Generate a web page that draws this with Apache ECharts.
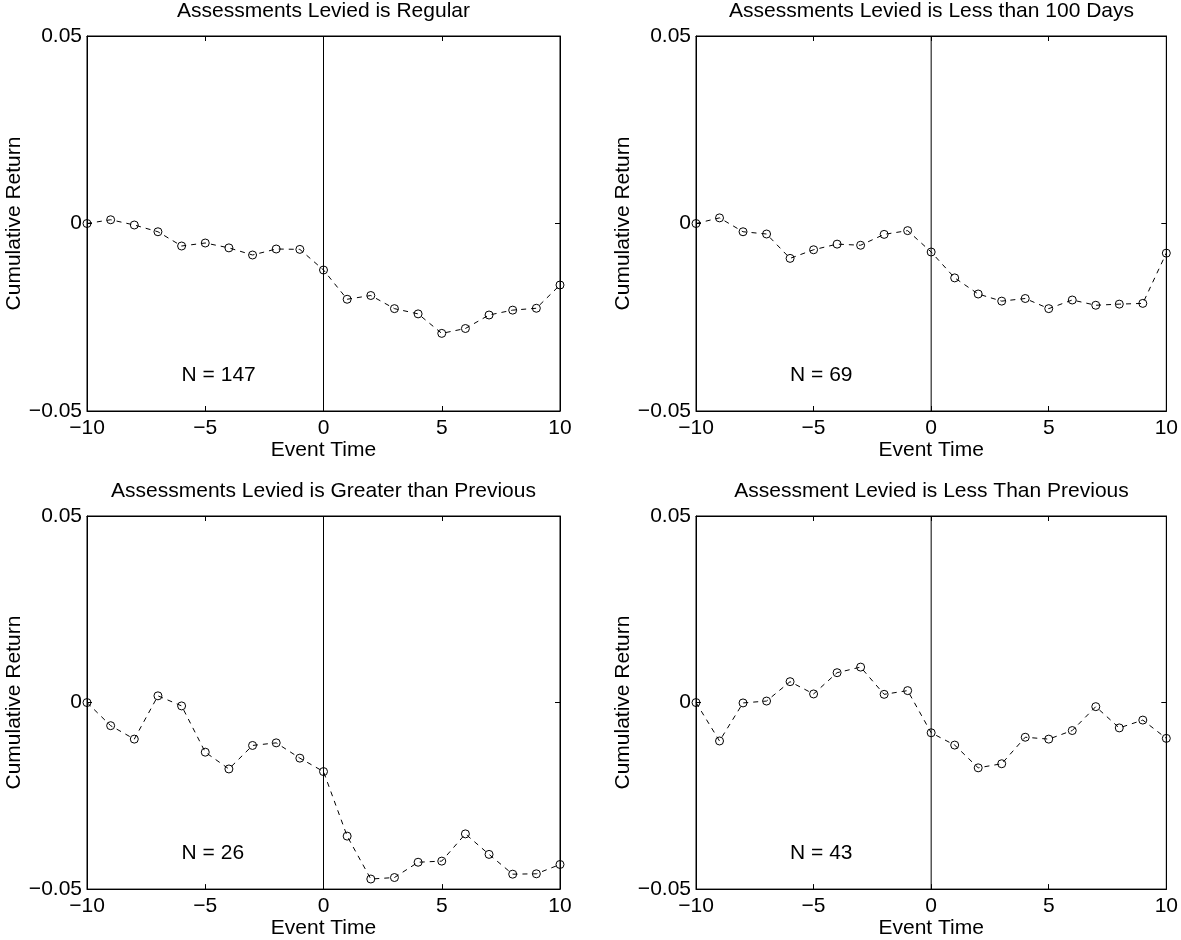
<!DOCTYPE html>
<html>
<head>
<meta charset="utf-8">
<script src="https://cdn.jsdelivr.net/npm/echarts@6/dist/echarts.min.js"></script>
<style>
  html, body { margin: 0; padding: 0; background: #fff; }
  #chart { width: 1181px; height: 940px; }
</style>
</head>
<body>
<div id="chart"></div>
<script>
// Event window (days relative to the levy announcement)
const eventTime = [-10, -9, -8, -7, -6, -5, -4, -3, -2, -1, 0, 1, 2, 3, 4, 5, 6, 7, 8, 9, 10];

// Cumulative returns for each sample
const regular = [0, 0.0010, -0.0004, -0.0022, -0.0060, -0.0052, -0.0065, -0.0084, -0.0068, -0.0069,
  -0.0124, -0.0202, -0.0192, -0.0227, -0.0241, -0.0293, -0.0280, -0.0244, -0.0231, -0.0226, -0.0164];
const lessThan100Days = [0, 0.0015, -0.0022, -0.0028, -0.0093, -0.0070, -0.0055, -0.0058, -0.0029, -0.0019,
  -0.0076, -0.0145, -0.0188, -0.0207, -0.0200, -0.0227, -0.0204, -0.0218, -0.0215, -0.0213, -0.0079];
const greaterThanPrevious = [0, -0.0062, -0.0098, 0.0018, -0.0009, -0.0133, -0.0178, -0.0115, -0.0108, -0.0149,
  -0.0185, -0.0358, -0.0473, -0.0469, -0.0428, -0.0425, -0.0352, -0.0407, -0.0460, -0.0459, -0.0434];
const lessThanPrevious = [0, -0.0103, -0.0001, 0.0004, 0.0056, 0.0023, 0.0080, 0.0095, 0.0022, 0.0032,
  -0.0081, -0.0114, -0.0175, -0.0164, -0.0093, -0.0098, -0.0075, -0.0011, -0.0068, -0.0047, -0.0096];

const panelTitles = [
  'Assessments Levied is Regular',
  'Assessments Levied is Less than 100 Days',
  'Assessments Levied is Greater than Previous',
  'Assessment Levied is Less Than Previous'
];
const sampleSizes = [147, 69, 26, 43];
const panelSeries = [regular, lessThan100Days, greaterThanPrevious, lessThanPrevious];

// Anchor of the "N = ..." note, in data units
const noteX = -6;
const noteY = -0.0405;

const xLabel = 'Event Time';
const yLabel = 'Cumulative Return';

// Layout of the 2x2 panels (pixels)
const grids = [
  { left: 87, top: 36, width: 473, height: 375 },
  { left: 696, top: 36, width: 471, height: 375 },
  { left: 87, top: 516, width: 473, height: 375 },
  { left: 696, top: 516, width: 471, height: 375 }
];

const FONT = 'Liberation Sans, Arial, Helvetica, sans-serif';
const FS = 21;
const minus = s => String(s).replace('-', '\u2212');

const option = {
  backgroundColor: '#fff',
  animation: false,
  textStyle: { fontFamily: FONT },
  title: [],
  grid: [],
  xAxis: [],
  yAxis: [],
  series: []
};

grids.forEach((g, i) => {
  option.grid.push(Object.assign({ show: true, borderColor: '#000', borderWidth: 1, backgroundColor: '#fff' }, g));

  option.title.push({
    text: panelTitles[i],
    left: g.left + g.width / 2,
    top: g.top - 35,
    padding: 0,
    textAlign: 'center',
    textStyle: { fontFamily: FONT, fontSize: FS, fontWeight: 'normal', color: '#000' }
  });

  const xCommon = {
    type: 'value', gridIndex: i, min: -10, max: 10, interval: 5,
    splitLine: { show: false },
    axisLine: { show: true, onZero: false, lineStyle: { color: '#000', width: 1 } },
    axisTick: { show: true, inside: true, length: 5, lineStyle: { color: '#000' } }
  };
  option.xAxis.push(Object.assign({}, xCommon, {
    position: 'bottom',
    name: xLabel, nameLocation: 'middle', nameGap: 27,
    nameTextStyle: { fontFamily: FONT, fontSize: FS, color: '#000' },
    axisLabel: { show: true, margin: 7, fontFamily: FONT, fontSize: FS, color: '#000', formatter: v => minus(v) }
  }));
  option.xAxis.push(Object.assign({}, xCommon, { position: 'top', axisLabel: { show: false } }));

  const yCommon = {
    type: 'value', gridIndex: i, min: -0.05, max: 0.05, interval: 0.05,
    splitLine: { show: false },
    axisLine: { show: true, onZero: false, lineStyle: { color: '#000', width: 1 } },
    axisTick: { show: true, inside: true, length: 5, lineStyle: { color: '#000' } }
  };
  option.yAxis.push(Object.assign({}, yCommon, {
    position: 'left',
    name: yLabel, nameLocation: 'middle', nameGap: 62,
    nameTextStyle: { fontFamily: FONT, fontSize: FS, color: '#000' },
    axisLabel: {
      show: true, margin: 5, fontFamily: FONT, fontSize: FS, color: '#000',
      formatter: v => (Math.abs(v) < 1e-9 ? '0' : minus(v.toFixed(2)))
    }
  }));
  option.yAxis.push(Object.assign({}, yCommon, { position: 'right', axisLabel: { show: false } }));

  const xi = i * 2, yi = i * 2;

  // event-day reference line
  option.series.push({
    type: 'line', xAxisIndex: xi, yAxisIndex: yi, symbol: 'none', silent: true,
    data: [[0, -0.05], [0, 0.05]],
    lineStyle: { color: '#000', width: 1, type: 'solid' }
  });

  // cumulative return path
  option.series.push({
    type: 'line', xAxisIndex: xi, yAxisIndex: yi,
    data: eventTime.map((t, k) => [t, panelSeries[i][k]]),
    symbol: 'circle', symbolSize: 8,
    itemStyle: { color: 'rgba(0,0,0,0)', borderColor: '#000', borderWidth: 1 },
    lineStyle: { color: '#000', width: 1, type: [5, 5] },
    clip: false
  });

  // sample size note
  option.series.push({
    type: 'scatter', xAxisIndex: xi, yAxisIndex: yi, symbolSize: 0, silent: true,
    itemStyle: { opacity: 1 },
    data: [[noteX, noteY]],
    label: {
      show: true, position: 'right', distance: 0,
      formatter: 'N = ' + sampleSizes[i],
      fontFamily: FONT, fontSize: FS, color: '#000'
    }
  });
});

const chart = echarts.init(document.getElementById('chart'), null, { renderer: 'canvas' });
chart.setOption(option);
</script>
</body>
</html>
